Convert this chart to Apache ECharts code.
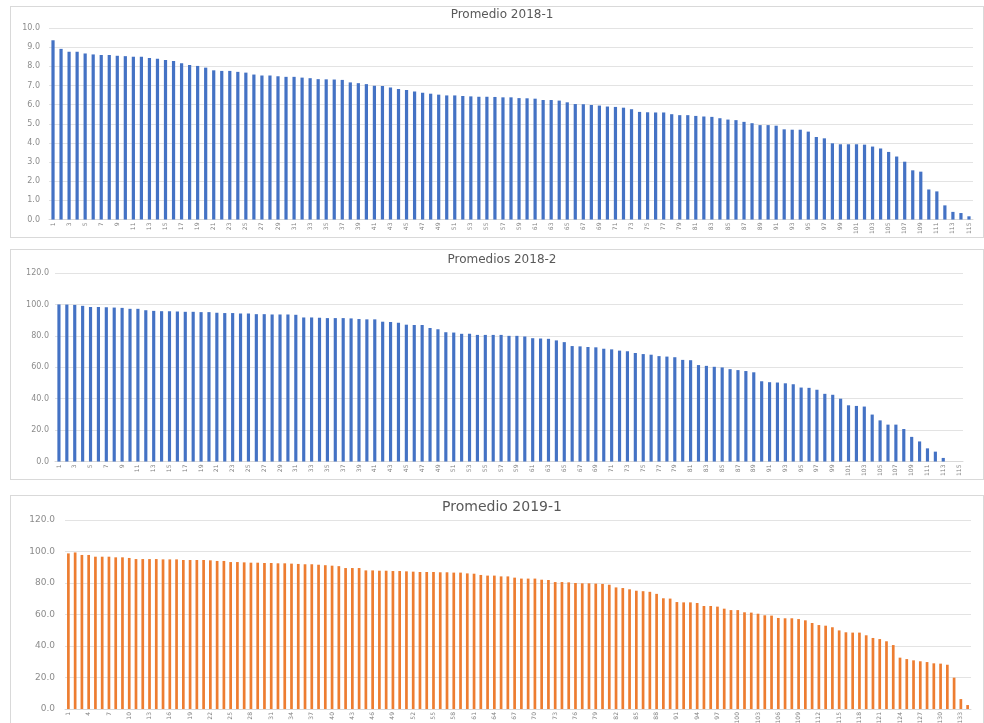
<!DOCTYPE html>
<html>
<head>
<meta charset="utf-8">
<script src="https://cdn.jsdelivr.net/npm/echarts@6/dist/echarts.min.js"></script>
<style>
  html, body { margin: 0; padding: 0; background: #fff; width: 984px; height: 723px; overflow: hidden; }
  .panel { position: absolute; left: 10px; width: 972px; border: 1px solid #d9d9d9; background: #fff; }
  #p1 { top: 6px; height: 230px; }
  #p2 { top: 249px; height: 229px; }
  #p3 { top: 495px; height: 240px; }
</style>
</head>
<body>
<div id="p1" class="panel"></div>
<div id="p2" class="panel"></div>
<div id="p3" class="panel"></div>
<script>
// datos
const promedio2018_1 = [
  9.36, 8.91, 8.76, 8.76, 8.67, 8.62, 8.59, 8.59, 8.55, 8.53,
  8.50, 8.50, 8.43, 8.40, 8.33, 8.28, 8.16, 8.07, 8.02, 7.93,
  7.79, 7.76, 7.76, 7.71, 7.67, 7.57, 7.52, 7.52, 7.48, 7.45,
  7.45, 7.41, 7.38, 7.33, 7.32, 7.31, 7.29, 7.16, 7.12, 7.07,
  6.98, 6.97, 6.90, 6.81, 6.76, 6.69, 6.62, 6.57, 6.52, 6.48,
  6.48, 6.45, 6.43, 6.41, 6.41, 6.40, 6.38, 6.38, 6.34, 6.33,
  6.31, 6.24, 6.24, 6.21, 6.12, 6.03, 6.02, 5.98, 5.95, 5.90,
  5.88, 5.84, 5.76, 5.62, 5.60, 5.59, 5.59, 5.50, 5.45, 5.45,
  5.41, 5.38, 5.36, 5.29, 5.22, 5.19, 5.10, 5.03, 4.93, 4.93,
  4.90, 4.71, 4.69, 4.69, 4.59, 4.31, 4.24, 3.98, 3.93, 3.93,
  3.93, 3.91, 3.81, 3.71, 3.53, 3.29, 3.02, 2.57, 2.50, 1.57,
  1.47, 0.74, 0.40, 0.34, 0.17
];

const promedios2018_2 = [
  100.0, 99.9, 99.7, 99.1, 98.4, 98.4, 98.2, 98.0, 97.8, 97.2,
  97.2, 96.3, 95.9, 95.7, 95.7, 95.5, 95.3, 95.3, 95.1, 95.1,
  94.7, 94.5, 94.5, 94.2, 94.2, 93.8, 93.8, 93.6, 93.6, 93.6,
  93.4, 91.7, 91.7, 91.5, 91.3, 91.3, 91.3, 91.1, 90.7, 90.5,
  90.5, 89.0, 88.8, 88.4, 87.1, 86.9, 86.9, 85.0, 84.2, 82.3,
  82.1, 81.3, 81.3, 80.6, 80.6, 80.6, 80.6, 80.0, 80.0, 79.6,
  78.5, 78.3, 78.1, 77.1, 76.0, 73.5, 73.3, 72.9, 72.7, 71.8,
  71.4, 70.6, 70.2, 69.1, 68.4, 68.0, 67.1, 66.8, 66.4, 64.7,
  64.5, 61.4, 60.9, 60.3, 59.9, 58.8, 58.2, 57.6, 56.8, 51.1,
  50.5, 50.3, 49.8, 49.2, 47.1, 46.9, 45.7, 43.1, 42.5, 40.0,
  35.8, 35.4, 35.0, 29.9, 26.2, 23.5, 23.5, 20.7, 15.7, 12.8,
  8.4, 6.3, 2.3, 0, 0
];

const promedio2019_1 = [
  98.8, 99.4, 97.8, 97.8, 96.7, 96.7, 96.7, 96.3, 96.3, 95.9,
  95.2, 95.2, 95.2, 95.2, 95.0, 95.0, 95.0, 94.6, 94.6, 94.6,
  94.6, 94.4, 94.0, 94.0, 93.3, 93.3, 93.1, 92.9, 92.9, 92.7,
  92.7, 92.5, 92.5, 92.3, 92.1, 91.9, 91.9, 91.6, 91.3, 91.0,
  90.7, 89.5, 89.5, 89.5, 88.0, 88.0, 87.8, 87.8, 87.6, 87.6,
  87.4, 87.2, 87.0, 87.0, 87.0, 86.8, 86.8, 86.6, 86.6, 86.1,
  85.9, 85.1, 84.7, 84.7, 84.2, 84.2, 83.4, 82.8, 82.8, 82.8,
  82.1, 81.9, 80.6, 80.6, 80.4, 80.0, 79.8, 79.8, 79.6, 79.4,
  78.9, 77.2, 76.8, 76.0, 75.1, 74.8, 74.4, 73.1, 70.3, 70.1,
  67.9, 67.7, 67.7, 67.3, 65.4, 65.4, 65.0, 63.7, 62.8, 62.8,
  61.4, 61.2, 60.5, 59.5, 59.3, 57.8, 57.6, 57.6, 57.1, 56.3,
  54.6, 53.3, 52.9, 51.9, 49.9, 48.7, 48.5, 48.5, 46.8, 45.1,
  44.4, 43.0, 40.6, 32.6, 31.7, 30.9, 30.3, 29.8, 29.0, 28.8,
  28.1, 19.9, 6.3, 2.5
];

// etiquetas del eje x: numero de estudiante 1..N
const cats2018_1 = promedio2018_1.map((v, i) => String(i + 1));
const cats2018_2 = promedios2018_2.map((v, i) => String(i + 1));
const cats2019_1 = promedio2019_1.map((v, i) => String(i + 1));

const FONT = 'DejaVu Sans';

// opciones comunes de cada grafico
const buildOption = (cfg) => {
  return {
    animation: false,
    title: {
      text: cfg.title,
      left: 491,
      top: cfg.titleTop,
      textAlign: 'center',
      padding: 0,
      textStyle: { color: '#595959', fontSize: cfg.titleSize, fontWeight: 'normal', fontFamily: FONT }
    },
    grid: cfg.grid,
    xAxis: {
      type: 'category',
      data: cfg.cats,
      boundaryGap: true,
      axisLine: { lineStyle: { color: '#d9d9d9' } },
      axisTick: { show: false },
      axisLabel: {
        interval: cfg.labelInterval,
        rotate: 90,
        margin: 3,
        fontSize: 6,
        color: '#7f7f7f',
        fontFamily: FONT
      }
    },
    yAxis: {
      type: 'value',
      min: 0,
      max: cfg.yMax,
      interval: cfg.yStep,
      axisLine: { show: false },
      axisTick: { show: false },
      splitLine: { lineStyle: { color: '#e3e3e3' } },
      axisLabel: {
        margin: cfg.yMargin,
        fontSize: cfg.yFont,
        color: '#8c8c8c',
        fontFamily: FONT,
        formatter: (v) => v.toFixed(1)
      }
    },
    series: [{
      type: 'bar',
      data: cfg.values,
      barWidth: '40%',
      itemStyle: { color: cfg.color }
    }]
  }
}

const chart1 = echarts.init(document.getElementById('p1'))
chart1.setOption(buildOption({
  title: 'Promedio 2018-1',
  titleTop: 2,
  titleSize: 12,
  grid: { left: 38, top: 21, width: 924, height: 194 },
  cats: cats2018_1,
  values: promedio2018_1,
  labelInterval: 1,
  yMax: 10,
  yStep: 1,
  yMargin: 9,
  yFont: 8,
  color: '#4472C4'
}))

const chart2 = echarts.init(document.getElementById('p2'))
chart2.setOption(buildOption({
  title: 'Promedios 2018-2',
  titleTop: 4,
  titleSize: 12,
  grid: { left: 44, top: 23, width: 908, height: 191 },
  cats: cats2018_2,
  values: promedios2018_2,
  labelInterval: 1,
  yMax: 120,
  yStep: 20,
  yMargin: 6,
  yFont: 8,
  color: '#4472C4'
}))

const chart3 = echarts.init(document.getElementById('p3'))
chart3.setOption(buildOption({
  title: 'Promedio 2019-1',
  titleTop: 4,
  titleSize: 14,
  grid: { left: 54, top: 24, width: 906, height: 189 },
  cats: cats2019_1,
  values: promedio2019_1,
  labelInterval: 2,
  yMax: 120,
  yStep: 20,
  yMargin: 10,
  yFont: 9,
  color: '#ED7D31'
}))
</script>
</body>
</html>
